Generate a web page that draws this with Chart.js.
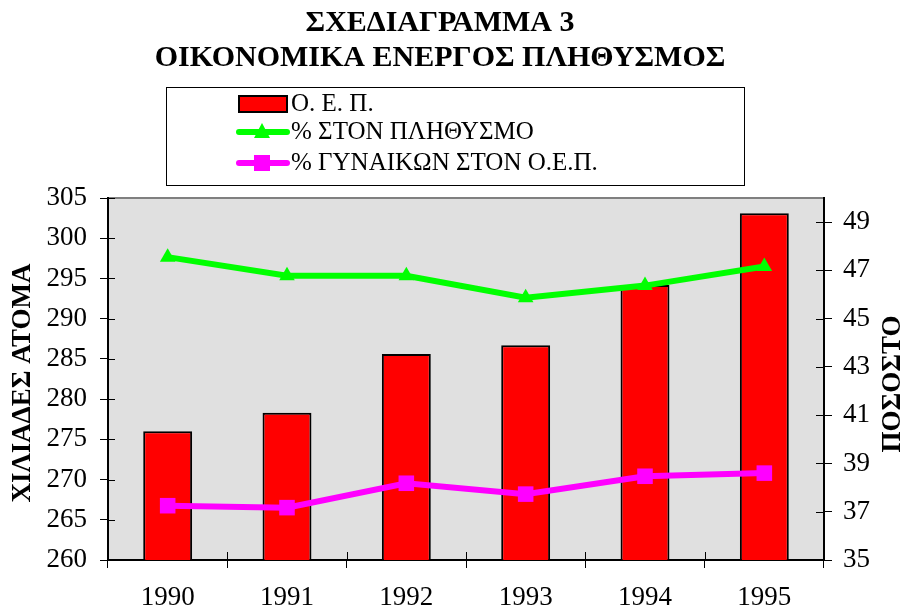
<!DOCTYPE html>
<html>
<head>
<meta charset="utf-8">
<script src="https://cdn.jsdelivr.net/npm/chart.js@4/dist/chart.umd.min.js"></script>
<style>
  html, body { margin: 0; padding: 0; background: #fff; }
  #wrap { width: 907px; height: 608px; }
</style>
</head>
<body>
<div id="wrap"><canvas id="chart" width="907" height="608"></canvas></div>
<script>
// data
const years = ['1990', '1991', '1992', '1993', '1994', '1995'];
const oep = [276.0, 278.3, 285.6, 286.7, 294.2, 303.1];          // thousands of people
const pctPopulation = [47.55, 46.78, 46.78, 45.87, 46.37, 47.16];  // %
const pctWomen = [37.25, 37.17, 38.18, 37.73, 38.47, 38.60];       // %

const titleLines = ['ΣΧΕΔΙΑΓΡΑΜΜΑ 3', 'ΟΙΚΟΝΟΜΙΚΑ ΕΝΕΡΓΟΣ ΠΛΗΘΥΣΜΟΣ'];
const leftTitle = 'ΧΙΛΙΑΔΕΣ ΑΤΟΜΑ';
const rightTitle = 'ΠΟΣΟΣΤΟ';
const rightTicks = [35, 37, 39, 41, 43, 45, 47, 49];

const SERIF = '"Liberation Serif", "Times New Roman", serif';
const GREEN = '#00ff00';
const MAGENTA = '#ff00ff';

// background, title, legend, axis titles, inward tick marks
const decor = {
    id: 'decor',
    beforeDraw(chart) {
        const { ctx, chartArea: a } = chart;
        ctx.save();
        ctx.fillStyle = '#e0e0e0';
        ctx.fillRect(a.left, a.top, a.right - a.left, a.bottom - a.top);
        ctx.strokeStyle = '#808080';
        ctx.lineWidth = 2;
        ctx.beginPath();
        ctx.moveTo(a.left, a.top);
        ctx.lineTo(a.right, a.top);
        ctx.stroke();
        ctx.restore();
    },
    afterDraw(chart) {
        const { ctx, chartArea: a } = chart;
        ctx.save();

        // title
        ctx.fillStyle = '#000';
        ctx.font = 'bold 30px ' + SERIF;
        ctx.textAlign = 'center';
        ctx.textBaseline = 'middle';
        ctx.fillText(titleLines[0], 440, 23);
        ctx.fillText(titleLines[1], 440, 58);

        // legend box
        ctx.strokeStyle = '#000';
        ctx.lineWidth = 1;
        ctx.strokeRect(166.5, 87.5, 578, 98);

        const sx = 239, ex = 287, mx = 262;
        const rows = [104, 132, 163];
        ctx.fillStyle = '#ff0000';
        ctx.fillRect(sx, rows[0] - 8, ex - sx, 16);
        ctx.lineWidth = 2;
        ctx.strokeRect(sx, rows[0] - 8, ex - sx, 16);

        ctx.lineCap = 'round';
        ctx.lineWidth = 6;
        ctx.strokeStyle = GREEN;
        ctx.beginPath(); ctx.moveTo(sx, rows[1]); ctx.lineTo(ex, rows[1]); ctx.stroke();
        ctx.fillStyle = GREEN;
        ctx.beginPath();
        ctx.moveTo(mx, rows[1] - 9); ctx.lineTo(mx + 8, rows[1] + 6); ctx.lineTo(mx - 8, rows[1] + 6);
        ctx.closePath(); ctx.fill();

        ctx.strokeStyle = MAGENTA;
        ctx.beginPath(); ctx.moveTo(sx, rows[2]); ctx.lineTo(ex, rows[2]); ctx.stroke();
        ctx.fillStyle = MAGENTA;
        ctx.fillRect(mx - 8, rows[2] - 8, 16, 16);

        ctx.fillStyle = '#000';
        ctx.font = '25px ' + SERIF;
        ctx.textAlign = 'left';
        const names = chart.data.datasets.map(d => d.label);
        ctx.fillText(names[0], 291, rows[0]);
        ctx.fillText(names[1], 291, rows[1]);
        ctx.fillText(names[2], 291, rows[2]);

        // axis titles, both reading bottom to top
        ctx.font = 'bold 27px ' + SERIF;
        ctx.textAlign = 'center';
        ctx.translate(23, 383);
        ctx.rotate(-Math.PI / 2);
        ctx.fillText(leftTitle, 0, 0);
        ctx.setTransform(1, 0, 0, 1, 0, 0);
        ctx.translate(893, 384);
        ctx.rotate(-Math.PI / 2);
        ctx.fillText(rightTitle, 0, 0);
        ctx.setTransform(1, 0, 0, 1, 0, 0);

        // inward half of the crossing ticks
        ctx.strokeStyle = '#000';
        ctx.lineWidth = 1;
        ctx.lineCap = 'butt';
        const yl = chart.scales.y;
        yl.ticks.forEach(t => {
            const y = Math.round(yl.getPixelForValue(t.value)) + 0.5;
            ctx.beginPath(); ctx.moveTo(a.left, y); ctx.lineTo(a.left + 7, y); ctx.stroke();
        });
        const yr = chart.scales.yRight;
        yr.ticks.forEach(t => {
            const y = Math.round(yr.getPixelForValue(t.value)) + 0.5;
            ctx.beginPath(); ctx.moveTo(a.right - 8, y); ctx.lineTo(a.right, y); ctx.stroke();
        });
        for (let i = 0; i <= years.length; i++) {
            const x = Math.round(a.left + i * (a.right - a.left) / years.length) + 0.5;
            ctx.beginPath(); ctx.moveTo(x, a.bottom - 8); ctx.lineTo(x, a.bottom); ctx.stroke();
        }
        ctx.restore();
    }
};

const tickFont = { family: SERIF, size: 27 };

new Chart(document.getElementById('chart'), {
    type: 'bar',
    data: {
        labels: years,
        datasets: [
            {
                type: 'bar',
                label: 'Ο. Ε. Π.',
                data: oep,
                yAxisID: 'y',
                backgroundColor: '#ff0000',
                borderColor: '#000',
                borderWidth: 2,
                barPercentage: 0.41,
                categoryPercentage: 1,
                order: 2
            },
            {
                type: 'line',
                label: '% ΣΤΟΝ ΠΛΗΘΥΣΜΟ',
                data: pctPopulation,
                yAxisID: 'yRight',
                borderColor: GREEN,
                backgroundColor: GREEN,
                borderWidth: 6,
                pointStyle: 'triangle',
                pointRadius: 9,
                pointBorderWidth: 0,
                tension: 0,
                order: 1
            },
            {
                type: 'line',
                label: '% ΓΥΝΑΙΚΩΝ ΣΤΟΝ Ο.Ε.Π.',
                data: pctWomen,
                yAxisID: 'yRight',
                borderColor: MAGENTA,
                backgroundColor: MAGENTA,
                borderWidth: 6,
                pointStyle: 'rect',
                pointRadius: 11,
                pointBorderWidth: 0,
                tension: 0,
                order: 0
            }
        ]
    },
    options: {
        responsive: false,
        animation: false,
        layout: { padding: { top: 198, left: 0, right: 0, bottom: 0 } },
        plugins: {
            legend: { display: false },
            title: { display: false },
            tooltip: { enabled: false }
        },
        scales: {
            x: {
                offset: true,
                grid: { offset: true, drawOnChartArea: false, color: '#000', tickLength: 8 },
                border: { color: '#000', width: 2 },
                ticks: { font: tickFont, color: '#000', padding: 14, maxRotation: 0 },
                afterFit(scale) { scale.height = 48; }
            },
            y: {
                position: 'left',
                min: 260,
                max: 305,
                ticks: { stepSize: 5, font: tickFont, color: '#000', padding: 13 },
                grid: { drawOnChartArea: false, color: '#000', tickLength: 8 },
                border: { color: '#000', width: 2 },
                afterFit(scale) { scale.width = 108; }
            },
            yRight: {
                position: 'right',
                min: 35,
                max: 50,
                ticks: { stepSize: 2, font: tickFont, color: '#000', padding: 11 },
                grid: { drawOnChartArea: false, color: '#000', tickLength: 8 },
                border: { color: '#000', width: 2 },
                afterBuildTicks(scale) { scale.ticks = rightTicks.map(v => ({ value: v })); },
                afterFit(scale) { scale.width = 83; }
            }
        }
    },
    plugins: [decor]
});
</script>
</body>
</html>
